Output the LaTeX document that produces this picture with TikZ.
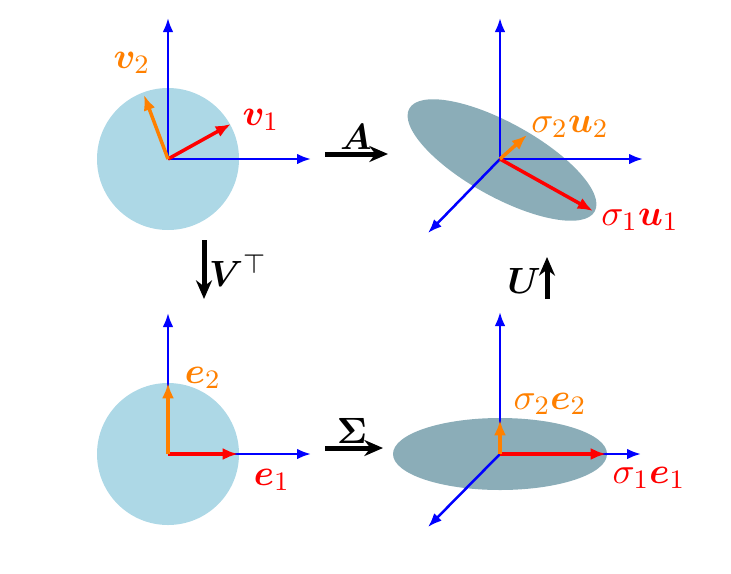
\documentclass[tikz,border=0pt]{standalone}
\usepackage{bm}
\usetikzlibrary{arrows.meta}
\definecolor{lightblue}{RGB}{173,216,230}
\definecolor{ellfill}{RGB}{139,173,184}
\definecolor{vorange}{RGB}{255,128,0}
\begin{document}
\begin{tikzpicture}[x=0.3pt,y=-0.3pt,
  every node/.style={font=\fontsize{11}{13}\selectfont},
  axis/.style={blue, line width=0.75pt, -{Latex[length=4.2pt,width=3.2pt]}},
  vecr/.style={red, line width=1.05pt, -{Latex[length=4.6pt,width=3.6pt]}},
  veco/.style={vorange, line width=1.05pt, -{Latex[length=4.6pt,width=3.6pt]}},
  maparrow/.style={black, line width=1.5pt, -{Stealth[length=5.6pt,width=4.8pt]}},
  lblr/.style={red, inner sep=0pt},
  lblo/.style={vorange, inner sep=0pt},
  lblk/.style={black, inner sep=0pt}]
\useasboundingbox (0,0) rectangle (731,573);
% origins
\coordinate (o1) at (168,159);
\coordinate (o2) at (500,159);
\coordinate (o3) at (168,454);
\coordinate (o4) at (500,454);
% ---------- top left
\fill[lightblue] (o1) circle (71);
\coordinate (y1) at (168,18);
\coordinate (x1) at (311,159);
\draw[axis] (o1) -- (y1);
\draw[axis] (o1) -- (x1);
\coordinate (v1) at (231,124);
\coordinate (v2) at (144,95);
\draw[vecr] (o1) -- (v1);
\draw[veco] (o1) -- (v2);
\node[lblo] (lv2) at (132,63) {$\bm{v}_2$};
\node[lblr] (lv1) at (261,120) {$\bm{v}_1$};
% ---------- top right
\coordinate (ec) at (502,160);
\fill[ellfill, rotate around={-29:(ec)}] (ec) ellipse (106 and 37);
\coordinate (y2) at (500,18);
\coordinate (x2) at (643,159);
\coordinate (z2) at (428,233);
\draw[axis] (o2) -- (y2);
\draw[axis] (o2) -- (x2);
\draw[axis] (o2) -- (z2);
\coordinate (u1) at (593,211);
\coordinate (u2) at (527,135);
\draw[vecr] (o2) -- (u1);
\draw[veco] (o2) -- (u2);
\node[lblo] (lu2) at (570,127) {$\sigma_2\bm{u}_2$};
\node[lblr] (lu1) at (640,220) {$\sigma_1\bm{u}_1$};
% ---------- bottom left
\fill[lightblue] (o3) circle (71);
\coordinate (y3) at (168,313);
\coordinate (x3) at (311,454);
\draw[axis] (o3) -- (y3);
\draw[axis] (o3) -- (x3);
\coordinate (e1) at (238,454);
\coordinate (e2) at (168,383);
\draw[vecr] (o3) -- (e1);
\draw[veco] (o3) -- (e2);
\node[lblo] (le2) at (203,378) {$\bm{e}_2$};
\node[lblr] (le1) at (272,480) {$\bm{e}_1$};
% ---------- bottom right
\fill[ellfill] (o4) ellipse (107 and 36);
\coordinate (y4) at (500,312);
\coordinate (x4) at (641,454);
\coordinate (z4) at (428,527);
\draw[axis] (o4) -- (y4);
\draw[axis] (o4) -- (x4);
\draw[axis] (o4) -- (z4);
\coordinate (s1) at (606,454);
\coordinate (s2) at (500,420);
\draw[vecr] (o4) -- (s1);
\draw[veco] (o4) -- (s2);
\node[lblo] (ls2) at (550,404) {$\sigma_2\bm{e}_2$};
\node[lblr] (ls1) at (649,478) {$\sigma_1\bm{e}_1$};
% ---------- map arrows
\coordinate (a1) at (325,154);
\coordinate (a2) at (388,154);
\draw[maparrow] (a1) -- (a2);
\node[lblk] (lA) at (356,137) {$\bm{A}$};
\coordinate (b1) at (204,240);
\coordinate (b2) at (204,299);
\draw[maparrow] (b1) -- (b2);
\node[lblk] (lV) at (238,271) {$\bm{V}^{\top}$};
\coordinate (c1) at (547,299);
\coordinate (c2) at (547,257);
\draw[maparrow] (c1) -- (c2);
\node[lblk] (lU) at (524,281) {$\bm{U}$};
\coordinate (d1) at (325,448);
\coordinate (d2) at (383,448);
\draw[maparrow] (d1) -- (d2);
\node[lblk] (lS) at (352,431) {$\bm{\Sigma}$};
\end{tikzpicture}
\end{document}
